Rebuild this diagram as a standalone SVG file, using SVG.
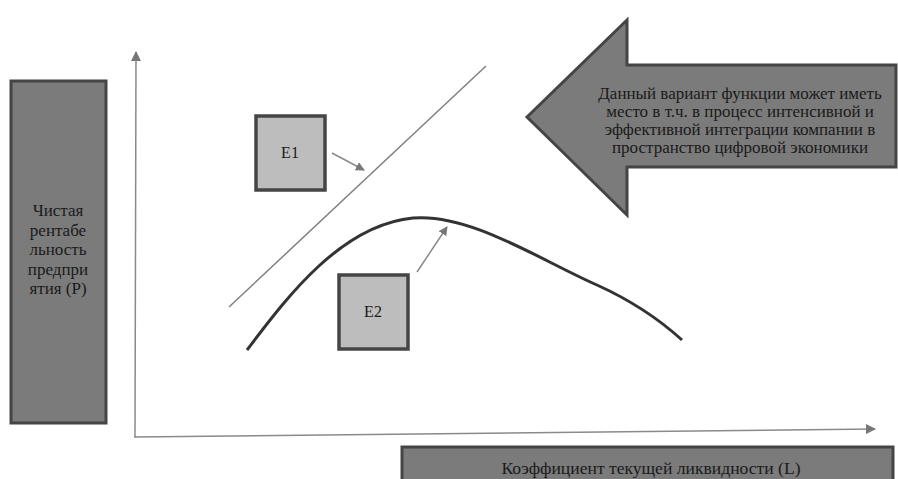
<svg xmlns="http://www.w3.org/2000/svg" width="898" height="479" viewBox="0 0 898 479">
<style>
.box{fill:#7b7b7b;stroke:#454545;stroke-width:3}
.ebox{fill:#bdbdbd;stroke:#454545;stroke-width:3.5}
.t{font-family:"Liberation Serif","Times New Roman","DejaVu Serif",serif;font-size:17px;fill:#1a1a1a;text-anchor:middle}
.e{font-size:16px}
.b{font-size:17.6px}
.axis{stroke:#8a8a8a;stroke-width:1.5;fill:none}
.ptr{stroke:#8a8a8a;stroke-width:1.5;fill:none}
</style>
<defs>
<marker id="ah" viewBox="0 0 10 10" refX="9" refY="5" markerWidth="9" markerHeight="9" orient="auto" markerUnits="userSpaceOnUse">
<path d="M0,0 L10,5 L0,10 z" fill="#777"/>
</marker>
<marker id="ah2" viewBox="0 0 10 10" refX="9" refY="5" markerWidth="10" markerHeight="10" orient="auto" markerUnits="userSpaceOnUse">
<path d="M0,0 L10,5 L0,10 z" fill="#777"/>
</marker>
</defs>
<rect width="898" height="479" fill="#fff"/>
<g id="connectors">
<line class="axis" x1="135" y1="437" x2="136" y2="52" marker-end="url(#ah2)"/>
<line class="axis" x1="134" y1="437" x2="875" y2="429" marker-end="url(#ah2)"/>
<line x1="229" y1="307" x2="486" y2="66" stroke="#808080" stroke-width="1.5"/>
<path d="M247,350 C285,300 340,225 413,218 C470,213 540,260 597,285 C630,300 660,320 682,340" fill="none" stroke="#333" stroke-width="3"/>
<line class="ptr" x1="332" y1="153" x2="364" y2="170" marker-end="url(#ah)"/>
<line class="ptr" x1="417" y1="272" x2="447" y2="227" marker-end="url(#ah)"/>
</g>
<g id="y-label">
<rect class="box" x="11" y="81" width="95" height="342"/>
<text class="t"><tspan x="58" y="216">Чистая</tspan><tspan x="58" y="236">рентабе</tspan><tspan x="58" y="255">льность</tspan><tspan x="58" y="275">предпри</tspan><tspan x="58" y="294">ятия (P)</tspan></text>
</g>
<g id="x-label">
<rect class="box" x="402" y="447" width="491" height="40"/>
<text class="t b" x="651" y="474">Коэффициент текущей ликвидности (L)</text>
</g>
<g id="note-arrow">
<path class="box" d="M527,117 L627,20 L627,65 L896,65 L896,167 L627,167 L627,215 Z"/>
<text class="t"><tspan x="740" y="99">Данный вариант функции может иметь</tspan><tspan x="740" y="117">место в т.ч. в процесс интенсивной и</tspan><tspan x="740" y="135">эффективной интеграции компании в</tspan><tspan x="740" y="153">пространство цифровой экономики</tspan></text>
</g>
<g id="E1">
<rect class="ebox" x="256" y="116" width="69" height="74"/>
<text class="t e" x="290" y="158">E1</text>
</g>
<g id="E2">
<rect class="ebox" x="339" y="275" width="69" height="74"/>
<text class="t e" x="373" y="317">E2</text>
</g>
</svg>
